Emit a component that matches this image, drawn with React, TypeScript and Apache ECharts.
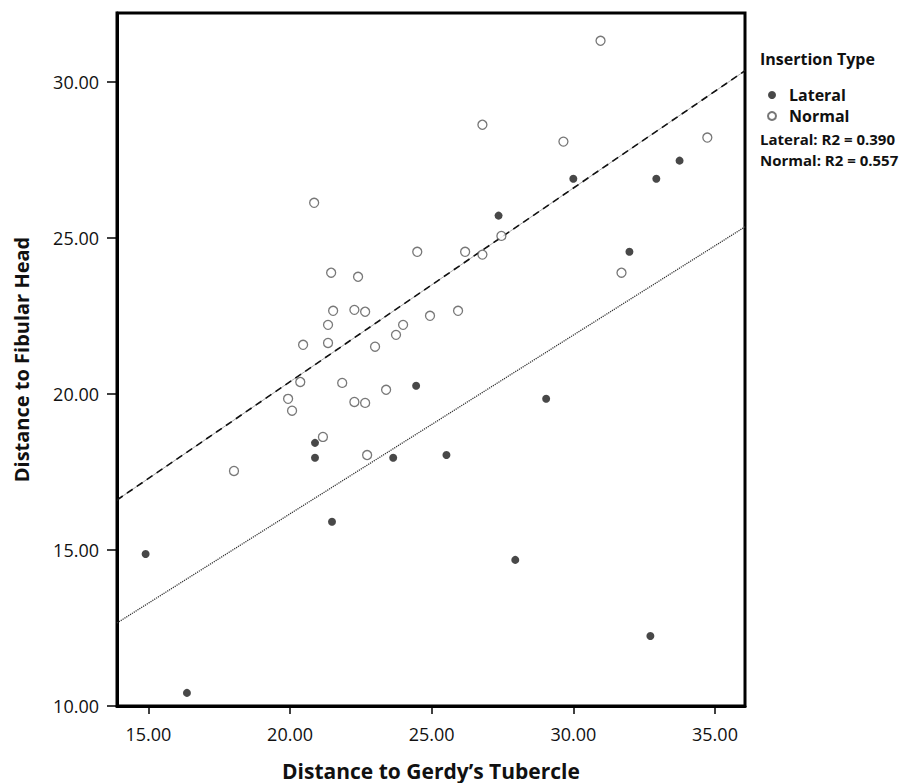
import React, { useEffect, useRef } from "react";
import * as echarts from "echarts";

const lateralX = [14.9, 16.36, 20.88, 20.88, 21.48, 24.45, 23.64, 25.52, 27.36, 30.0, 32.93, 33.75, 31.98, 29.04, 27.95, 32.72];
const lateralY = [14.87, 10.42, 18.43, 17.95, 15.9, 20.26, 17.95, 18.04, 25.71, 26.89, 26.89, 27.47, 24.55, 19.84, 14.68, 12.24];

const normalX = [20.85, 30.96, 26.79, 29.65, 34.73, 27.46, 24.49, 26.18, 26.79, 31.7, 23.99, 24.94, 25.93, 21.45, 22.4, 21.52, 22.27, 22.65, 21.34, 21.34, 20.46, 23.74, 23.0, 20.36, 21.84, 19.93, 20.07, 22.27, 22.65, 23.39, 21.16, 22.72, 18.02];
const normalY = [26.12, 31.31, 28.62, 28.08, 28.21, 25.06, 24.55, 24.55, 24.46, 23.88, 22.21, 22.5, 22.66, 23.88, 23.75, 22.66, 22.69, 22.63, 22.21, 21.63, 21.57, 21.89, 21.51, 20.38, 20.35, 19.84, 19.46, 19.74, 19.71, 20.13, 18.62, 18.04, 17.53];

// fit lines read at the plot edges
const fitX = [13.89, 36.06];
const normalFitY = [16.6, 30.35];
const lateralFitY = [12.66, 25.35];

const xTicks = [15, 20, 25, 30, 35];
const yTicks = [10, 15, 20, 25, 30];
const r2Labels = ["Lateral: R2 = 0.390", "Normal: R2 = 0.557"];

const FONT = "Open Sans";

export default function App() {
  const ref = useRef<HTMLDivElement>(null);
  useEffect(() => {
    const chart = echarts.init(ref.current!, null, { renderer: "svg" });
    const zip = (xs: number[], ys: number[]) => xs.map((x, i) => [x, ys[i]]);
    chart.setOption({
      animation: false,
      backgroundColor: "#fff",
      textStyle: { fontFamily: FONT },
      grid: {
        left: 117,
        top: 13,
        right: 175,
        bottom: 77,
        outerBoundsMode: "none",
        containLabel: false,
        show: true,
        borderColor: "#000",
        borderWidth: 3,
      },
      xAxis: {
        type: "value",
        min: fitX[0],
        max: fitX[1],
        name: "Distance to Gerdy\u2019s Tubercle",
        nameLocation: "middle",
        nameGap: 54,
        nameTextStyle: { fontFamily: FONT, fontWeight: "bold", fontSize: 21, color: "#111" },
        splitLine: { show: false },
        axisLine: { lineStyle: { color: "#000", width: 3 } },
        axisTick: { customValues: xTicks, length: 8, lineStyle: { color: "#000", width: 1.5 } },
        axisLabel: {
          customValues: xTicks,
          formatter: (v: number) => v.toFixed(2),
          fontSize: 18,
          color: "#111",
          margin: 19,
        },
      },
      yAxis: {
        type: "value",
        min: 10,
        max: 32.2,
        name: "Distance to Fibular Head",
        nameLocation: "middle",
        nameGap: 86,
        nameTextStyle: { fontFamily: FONT, fontWeight: "bold", fontSize: 20, color: "#111" },
        splitLine: { show: false },
        axisLine: { onZero: false, lineStyle: { color: "#000", width: 3 } },
        axisTick: { customValues: yTicks, length: 10, lineStyle: { color: "#000", width: 1.5 } },
        axisLabel: {
          customValues: yTicks,
          formatter: (v: number) => v.toFixed(2),
          fontSize: 18,
          color: "#111",
          margin: 18,
        },
      },
      legend: {
        data: ["Lateral", "Normal"],
        orient: "vertical",
        left: 767,
        top: 87,
        itemGap: 5,
        itemWidth: 8,
        itemHeight: 8,
        icon: "circle",
        padding: 0,
        textStyle: {
          fontFamily: FONT,
          fontWeight: "bold",
          fontSize: 16,
          color: "#111",
          padding: [0, 0, 0, 8],
        },
      },
      graphic: [
        {
          type: "text",
          left: 760,
          top: 51,
          style: { text: "Insertion Type", fontFamily: FONT, fontWeight: "bold", fontSize: 16, fill: "#111" },
        },
        {
          type: "text",
          left: 760,
          top: 131,
          style: { text: r2Labels[0], fontFamily: FONT, fontWeight: "bold", fontSize: 15, fill: "#111" },
        },
        {
          type: "text",
          left: 760,
          top: 152,
          style: { text: r2Labels[1], fontFamily: FONT, fontWeight: "bold", fontSize: 15, fill: "#111" },
        },
      ],
      series: [
        {
          name: "Normal fit base",
          type: "line",
          data: zip(fitX, normalFitY),
          symbol: "none",
          silent: true,
          lineStyle: { color: "#aaa", width: 1 },
          z: 1,
        },
        {
          name: "Normal fit",
          type: "line",
          data: zip(fitX, normalFitY),
          symbol: "none",
          silent: true,
          lineStyle: { color: "#111", width: 1.6, type: [7, 5] },
          z: 2,
        },
        {
          name: "Lateral fit",
          type: "line",
          data: zip(fitX, lateralFitY),
          symbol: "none",
          silent: true,
          lineStyle: { color: "#333", width: 1.3, type: [1.2, 1] },
          z: 2,
        },
        {
          name: "Lateral",
          type: "scatter",
          data: zip(lateralX, lateralY),
          symbol: "circle",
          symbolSize: 8,
          itemStyle: { color: "#1a1a1a" },
          z: 5,
        },
        {
          name: "Normal",
          type: "scatter",
          data: zip(normalX, normalY),
          symbol: "circle",
          symbolSize: 9,
          itemStyle: { color: "#fff", borderColor: "#555", borderWidth: 1.3 },
          z: 5,
        },
      ],
    });
    return () => chart.dispose();
  }, []);
  return (
    <div
      ref={ref}
      style={{ position: "fixed", left: 0, top: 0, width: 920, height: 783 }}
    />
  );
}
